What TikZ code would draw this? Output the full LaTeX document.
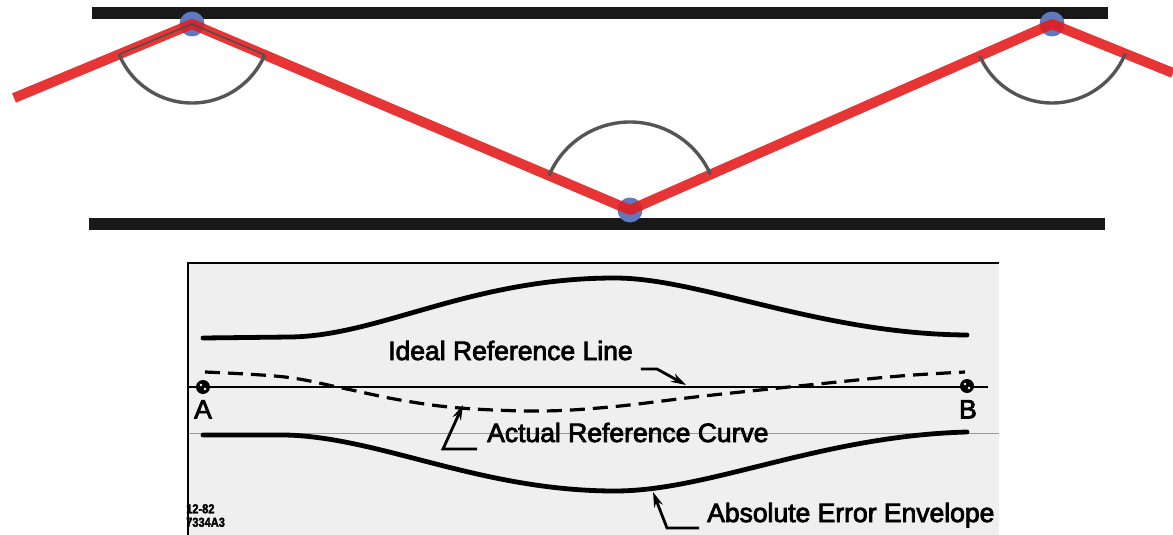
\documentclass[tikz,border=0pt]{standalone}
\usepackage{fontspec}
\setmainfont{Liberation Sans}
\newfontfamily\lblfont{Liberation Sans}[FakeBold=3]
\newfontfamily\codefont{Liberation Sans Bold}[FakeStretch=0.85,FakeBold=2]
\usetikzlibrary{arrows.meta}
\definecolor{redline}{RGB}{228,30,30}
\definecolor{dotblue}{RGB}{95,120,190}
\definecolor{arcgray}{RGB}{85,85,85}
\definecolor{panel}{RGB}{239,239,239}
\tikzset{
  bar/.style={line width=12pt,black!90},
  zig/.style={redline,line width=10pt,line join=round,opacity=0.9},
  angarc/.style={arcgray,line width=3.4pt},
  dotnode/.style={circle,fill=dotblue,inner sep=0pt,minimum size=25pt},
  env/.style={line width=4.8pt,line cap=round},
  lbl/.style={font=\lblfont\fontsize{26.5}{28}\selectfont,inner sep=0pt,anchor=base west},
  leader/.style={line width=2.8pt,-{Stealth[length=15pt,width=9pt]}},
  pin/.style={circle,fill=black,inner sep=0pt,minimum size=14pt}
}
\begin{document}
\begin{tikzpicture}[x=1pt,y=-1pt]
\useasboundingbox (0,0) rectangle (1173,535);
% ---------- top part ----------
\draw[bar] (92,13) -- (1108,13);
\draw[bar] (89,224) -- (1105,224);
\coordinate (L0) at (14,98);
\coordinate (V1) at (192,24);
\coordinate (V2) at (630,210);
\coordinate (V3) at (1052,24);
\coordinate (R0) at (1173,73);
\node[dotnode] (d1) at (V1) {};
\node[dotnode] (d2) at (V2) {};
\node[dotnode] (d3) at (V3) {};
\draw[zig] (L0) -- (V1) -- (V2) -- (V3) -- (R0);
% angle arcs
\draw[angarc] ([shift={(157.4:79)}]V1) arc[start angle=157.4,end angle=23,radius=79];
\draw[angarc] ([shift={(156.2:79)}]V3) arc[start angle=156.2,end angle=22,radius=79];
\draw[angarc] ([shift={(-23.8:88)}]V2) arc[start angle=-23.8,end angle=-157,radius=88];
\draw[line width=1.4pt,black!70] ([shift={(157.4:79)}]V1) -- (V1) -- ([shift={(23:79)}]V1);
% ---------- bottom panel ----------
\fill[panel] (189,263) rectangle (999,535);
\draw[line width=2pt] (188,535) -- (188,263) -- (999,263);
\draw[black!40,line width=1pt] (189,433) -- (999,433);
\draw[line width=1.8pt] (189,387) -- (988,387);
\node[pin] (A) at (203,387) {};
\node[pin] (B) at (967,386) {};
\fill[white] (201,385) circle (1.4pt) (205,389) circle (1.4pt);
\fill[white] (965,384) circle (1.4pt) (969,388) circle (1.4pt);
\node[lbl,anchor=north] (Alab) at (203,400) {A};
\node[lbl,anchor=north] (Blab) at (968,400) {B};
% envelopes
\draw[env] (203,338) -- (290,337) .. controls (380,336) and (470,278) .. (615,278) .. controls (700,278) and (820,334) .. (967,335);
\draw[env] (203,435) -- (285,435) .. controls (380,437) and (480,491) .. (615,491) .. controls (710,491) and (820,436) .. (967,432);
% actual curve
\draw[line width=3.2pt,dash pattern=on 15pt off 8pt] plot[smooth,tension=0.6] coordinates {(205,372) (285,377) (342,388) (400,400) (460,408) (540,411) (610,407) (695,397) (760,390) (818,384) (900,376) (965,372)};
% labels
\node[lbl] (ideal) at (388,360) {Ideal Reference Line};
\node[lbl] (actual) at (487,442) {Actual Reference Curve};
\node[lbl] (abs) at (707,522) {Absolute Error Envelope};
\node[font=\codefont\fontsize{13}{13.5}\selectfont,align=left,anchor=north west,inner sep=0pt] (code) at (186,504) {12-82\\7334A3};
% leaders
\coordinate (t1) at (686,385);
\coordinate (t2) at (463,405);
\coordinate (t3) at (653,492);
\draw[leader] ([xshift=8pt,yshift=-9pt]ideal.base east) -- ++(16,0) -- (t1);
\draw[leader] ([xshift=-10pt,yshift=-7pt]actual.base west) -- ++(-34,0) -- (t2);
\draw[leader] ([xshift=-8pt,yshift=-6pt]abs.base west) -- ++(-32,0) -- (t3);
\end{tikzpicture}
\end{document}
